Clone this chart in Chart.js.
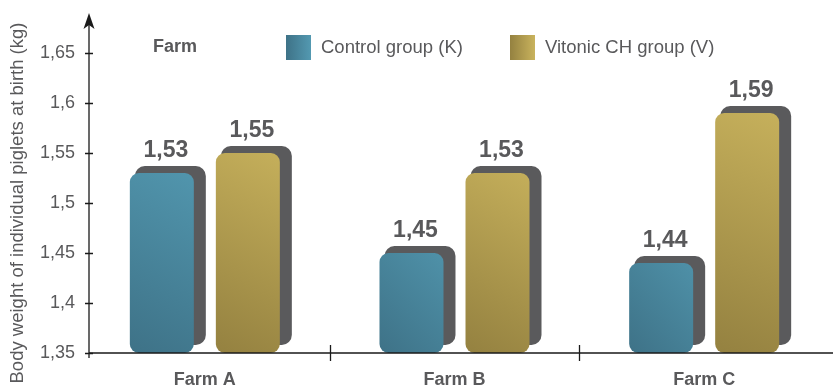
<!DOCTYPE html>
<html>
<head>
<meta charset="utf-8">
<script src="https://cdn.jsdelivr.net/npm/chart.js@4.4.1/dist/chart.umd.min.js"></script>
<style>
  body { margin: 0; background: #fff; }
  .chart-wrapper { width: 833px; height: 388px; }
</style>
</head>
<body>
<div class="chart-wrapper"><canvas id="farmChart"></canvas></div>
<script>
const farms = ['Farm A', 'Farm B', 'Farm C'];
const groupNames = ['Control group (K)', 'Vitonic CH group (V)'];
const controlValues = [1.53, 1.45, 1.44];
const vitonicValues = [1.55, 1.53, 1.59];
const yTickValues = [1.35, 1.4, 1.45, 1.5, 1.55, 1.6, 1.65];
const yTickLabels = ['1,35', '1,4', '1,45', '1,5', '1,55', '1,6', '1,65'];
const yTitle = 'Body weight of individual piglets at birth (kg)';
const legendTitle = 'Farm';

const textColor = '#59595b';
const fontFamily = '"Liberation Sans", Arial, Helvetica, sans-serif';
// [dark, light] per group
const barColors = [['#3e7287', '#5399b1'], ['#948140', '#c9b35d']];
// the drawn y axis sits a little right of the plot area's left edge
const axisShift = 9;

function roundRect(ctx, x, y, w, h, r) {
  r = Math.min(r, w / 2, h / 2);
  ctx.beginPath();
  ctx.moveTo(x + r, y);
  ctx.arcTo(x + w, y, x + w, y + h, r);
  ctx.arcTo(x + w, y + h, x, y + h, r);
  ctx.arcTo(x, y + h, x, y, r);
  ctx.arcTo(x, y, x + w, y, r);
  ctx.closePath();
}

// dark block behind each bar + diagonal gradient for the bar itself
const barShadow = {
  id: 'barShadow',
  beforeDatasetsDraw(chart) {
    const ctx = chart.ctx;
    ctx.save();
    chart.data.datasets.forEach((ds, i) => {
      chart.getDatasetMeta(i).data.forEach(bar => {
        const left = bar.x - bar.width / 2;
        const right = bar.x + bar.width / 2;
        ctx.fillStyle = '#5a5a5c';
        roundRect(ctx, left + 5, bar.y - 7, right - left + 7, bar.base - 8 - (bar.y - 7), 10);
        ctx.fill();
        const g = ctx.createLinearGradient(left, bar.base, right + 40, bar.y);
        g.addColorStop(0, barColors[i][0]);
        g.addColorStop(1, barColors[i][1]);
        bar.options.backgroundColor = g;
      });
    });
    ctx.restore();
  },
  afterDatasetsDraw(chart) {
    const ctx = chart.ctx;
    ctx.save();
    ctx.fillStyle = textColor;
    ctx.font = 'bold 23px ' + fontFamily;
    ctx.textAlign = 'center';
    ctx.textBaseline = 'alphabetic';
    chart.data.datasets.forEach((ds, i) => {
      chart.getDatasetMeta(i).data.forEach((bar, j) => {
        const txt = ds.data[j].toFixed(2).replace('.', ',');
        ctx.fillText(txt, bar.x + 4, bar.y - 16);
      });
    });
    ctx.restore();
  }
};

// axis lines, arrow, tick marks, y title and the legend row
const axesAndLegend = {
  id: 'axesAndLegend',
  afterDraw(chart) {
    const ctx = chart.ctx;
    const area = chart.chartArea;
    const y = chart.scales.y;
    const x = chart.scales.x;
    const ax = area.left + axisShift;
    const ay = area.bottom;
    ctx.save();
    ctx.strokeStyle = '#1a1a1a';
    ctx.fillStyle = '#1a1a1a';
    ctx.lineWidth = 1.3;

    ctx.beginPath();
    ctx.moveTo(ax, ay + 5);
    ctx.lineTo(ax, area.top + 6);
    ctx.moveTo(ax, ay);
    ctx.lineTo(chart.width, ay);
    ctx.stroke();

    ctx.beginPath();
    ctx.moveTo(ax, area.top);
    ctx.lineTo(ax - 5.5, area.top + 16);
    ctx.lineTo(ax, area.top + 12);
    ctx.lineTo(ax + 5.5, area.top + 16);
    ctx.closePath();
    ctx.fill();

    ctx.beginPath();
    yTickValues.forEach(v => {
      const py = Math.round(y.getPixelForValue(v)) + 0.5;
      ctx.moveTo(ax - 4, py);
      ctx.lineTo(ax + 4, py);
    });
    for (let i = 1; i < farms.length; i++) {
      const px = Math.round((x.getPixelForValue(i - 1) + x.getPixelForValue(i)) / 2) + 0.5;
      ctx.moveTo(px, ay - 8);
      ctx.lineTo(px, ay + 8);
    }
    ctx.stroke();

    ctx.fillStyle = textColor;
    ctx.font = '18.5px ' + fontFamily;
    ctx.textAlign = 'center';
    ctx.textBaseline = 'alphabetic';
    ctx.translate(23, 203);
    ctx.rotate(-Math.PI / 2);
    ctx.fillText(yTitle, 0, 0);
    ctx.setTransform(1, 0, 0, 1, 0, 0);

    ctx.textAlign = 'left';
    ctx.textBaseline = 'middle';
    ctx.font = 'bold 18px ' + fontFamily;
    ctx.fillText(legendTitle, 153, 47);

    const boxX = [286, 510];
    ctx.font = '18.5px ' + fontFamily;
    chart.data.datasets.forEach((ds, i) => {
      const g = ctx.createLinearGradient(boxX[i], 0, boxX[i] + 25, 0);
      g.addColorStop(0, barColors[i][0]);
      g.addColorStop(1, barColors[i][1]);
      ctx.fillStyle = g;
      ctx.fillRect(boxX[i], 35, 25, 25);
      ctx.fillStyle = textColor;
      ctx.fillText(ds.label, boxX[i] + 35, 48);
    });
    ctx.restore();
  }
};

new Chart(document.getElementById('farmChart').getContext('2d'), {
  type: 'bar',
  data: {
    labels: farms,
    datasets: [
      { label: groupNames[0], data: controlValues, base: yTickValues[0], backgroundColor: c => barColors[0][1] },
      { label: groupNames[1], data: vitonicValues, base: yTickValues[0], backgroundColor: c => barColors[1][1] }
    ]
  },
  options: {
    responsive: true,
    maintainAspectRatio: false,
    animation: false,
    categoryPercentage: 0.689,
    barPercentage: 0.744,
    layout: { padding: { top: 13, right: 4, left: 0, bottom: 0 } },
    elements: { bar: { borderRadius: 9, borderSkipped: false, borderWidth: 0 } },
    plugins: { legend: { display: false }, tooltip: { enabled: false } },
    scales: {
      x: {
        grid: { display: false, drawTicks: false },
        border: { display: false },
        ticks: { color: textColor, font: { family: fontFamily, size: 18, weight: 'bold' }, padding: 16 },
        afterFit(scale) {
          scale.height = 35;
          scale.paddingLeft = 0;
          scale.paddingRight = 0;
        }
      },
      y: {
        min: 1.35,
        max: 1.69,
        grid: { display: false, drawTicks: false },
        border: { display: false },
        afterBuildTicks(scale) { scale.ticks = yTickValues.map(v => ({ value: v })); },
        ticks: {
          color: textColor,
          font: { family: fontFamily, size: 18 },
          padding: 14 - axisShift,
          callback: (v, i) => yTickLabels[i]
        },
        afterFit(scale) {
          scale.width = 89 - axisShift;
          scale.paddingTop = 0;
          scale.paddingBottom = 0;
        }
      }
    }
  },
  plugins: [barShadow, axesAndLegend]
});
</script>
</body>
</html>
